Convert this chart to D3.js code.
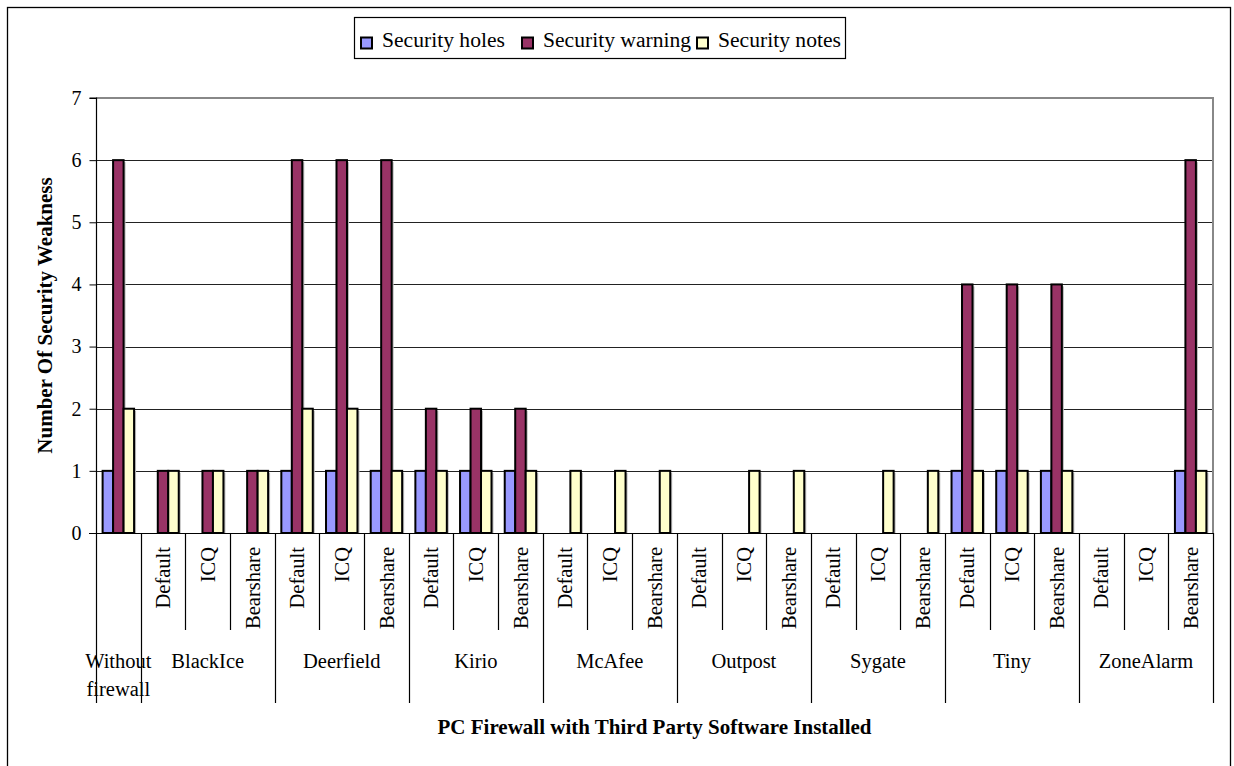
<!DOCTYPE html>
<html>
<head>
<meta charset="utf-8">
<script src="https://cdn.jsdelivr.net/npm/d3@7"></script>
<style>
  html, body { margin: 0; padding: 0; background: #fff; }
  svg { display: block; }
  text { font-family: "Liberation Serif", "Times New Roman", serif; fill: #000; }
</style>
</head>
<body>
<svg id="chart" width="1234" height="766"></svg>
<script>
// ---- data ----
const groups = ["Without firewall", "BlackIce", "Deerfield", "Kirio", "McAfee", "Outpost", "Sygate", "Tiny", "ZoneAlarm"];
const groupSizes = [1, 3, 3, 3, 3, 3, 3, 3, 3];
const subLabels = ["", "Default", "ICQ", "Bearshare", "Default", "ICQ", "Bearshare", "Default", "ICQ", "Bearshare",
  "Default", "ICQ", "Bearshare", "Default", "ICQ", "Bearshare", "Default", "ICQ", "Bearshare",
  "Default", "ICQ", "Bearshare", "Default", "ICQ", "Bearshare"];
const seriesNames = ["Security holes", "Security warning", "Security notes"];
const seriesColors = ["#9999FF", "#993366", "#FFFFCC"];
const holes   = [1, 0,0,0, 1,1,1, 1,1,1, 0,0,0, 0,0,0, 0,0,0, 1,1,1, 0,0,1];
const warning = [6, 1,1,1, 6,6,6, 2,2,2, 0,0,0, 0,0,0, 0,0,0, 4,4,4, 0,0,6];
const notes   = [2, 1,1,1, 2,2,1, 1,1,1, 1,1,1, 0,1,1, 0,1,1, 1,1,1, 0,0,1];
const yTicks = [0, 1, 2, 3, 4, 5, 6, 7];
const yTitle = "Number Of Security Weakness";
const xTitle = "PC Firewall with Third Party Software Installed";

const seriesValues = [holes, warning, notes];

// ---- layout ----
const svg = d3.select("#chart");
const plot = { left: 96, right: 1213, top: 98, bottom: 533 };

const idx = d3.range(subLabels.length);
const x0 = d3.scaleBand().domain(idx).range([plot.left, plot.right]).padding(0);
const bw = x0.bandwidth();
const gap = bw * 0.148;
const x1 = d3.scaleBand().domain(d3.range(seriesNames.length)).range([gap, bw - gap]).padding(0);
const y = d3.scaleLinear().domain([0, 7]).range([plot.bottom, plot.top]);

// outer frame
svg.append("rect").attr("x", 7.5).attr("y", 7.5).attr("width", 1223).attr("height", 780)
  .attr("fill", "none").attr("stroke", "#000").attr("stroke-width", 1.3);

// gridlines
svg.append("g").selectAll("line").data(yTicks.filter(t => t > 0 && t < 7)).join("line")
  .attr("x1", plot.left).attr("x2", plot.right)
  .attr("y1", d => Math.round(y(d)) + 0.5).attr("y2", d => Math.round(y(d)) + 0.5)
  .attr("stroke", "#222").attr("stroke-width", 1);

// plot border top/right (gray)
svg.append("path")
  .attr("d", `M${plot.left},${plot.top}H${plot.right}V${plot.bottom}`)
  .attr("fill", "none").attr("stroke", "#888").attr("stroke-width", 2);

// y axis
const yAxis = d3.axisLeft(y).tickValues(yTicks).tickSize(7).tickPadding(8).tickFormat(d3.format("d"));
const gy = svg.append("g").attr("transform", `translate(${plot.left + 0.5},0)`).call(yAxis);
gy.select(".domain").attr("stroke", "#000").attr("stroke-width", 1.2).attr("d", `M-7,${plot.top}H0V${plot.bottom}`);
gy.selectAll(".tick line").attr("stroke", "#000");
gy.selectAll(".tick text").style("font-size", "20px").style("font-family", "'Liberation Serif', serif").attr("fill", "#000");

// bar shadows
const barData = [];
seriesValues.forEach((vals, s) => vals.forEach((v, i) => { if (v > 0) barData.push({ s, i, v }); }));

svg.append("g").selectAll("rect").data(barData).join("rect")
  .attr("x", d => x0(d.i) + x1(d.s) + 2)
  .attr("y", d => y(d.v) + 2)
  .attr("width", x1.bandwidth())
  .attr("height", d => y(0) - y(d.v) - 2)
  .attr("fill", "#bbb");

// bars
svg.append("g").selectAll("rect").data(barData).join("rect")
  .attr("x", d => x0(d.i) + x1(d.s))
  .attr("y", d => y(d.v))
  .attr("width", x1.bandwidth())
  .attr("height", d => y(0) - y(d.v))
  .attr("fill", d => seriesColors[d.s])
  .attr("stroke", "#000").attr("stroke-width", 2);

// baseline
svg.append("line").attr("x1", plot.left - 7).attr("x2", plot.right)
  .attr("y1", plot.bottom + 0.5).attr("y2", plot.bottom + 0.5)
  .attr("stroke", "#000").attr("stroke-width", 1.2);

// category dividers
const groupStarts = [];
let acc = 0;
groupSizes.forEach(n => { groupStarts.push(acc); acc += n; });
const groupBoundaries = new Set(groupStarts.concat([acc]));
const divG = svg.append("g");
d3.range(subLabels.length + 1).forEach(k => {
  const xx = k < subLabels.length ? x0(k) : plot.right;
  const isGroup = groupBoundaries.has(k);
  divG.append("line")
    .attr("x1", Math.round(xx) + 0.5).attr("x2", Math.round(xx) + 0.5)
    .attr("y1", plot.bottom).attr("y2", isGroup ? 703 : 630)
    .attr("stroke", "#000").attr("stroke-width", 1.2);
});

// sub labels (rotated)
svg.append("g").selectAll("text").data(idx.filter(i => subLabels[i] !== "")).join("text")
  .attr("transform", i => `translate(${x0(i) + bw / 2},547) rotate(-90)`)
  .attr("text-anchor", "end")
  .attr("dy", "0.35em")
  .style("font-size", "20.5px")
  .text(i => subLabels[i]);

// group labels
const gl = svg.append("g");
groups.forEach((g, gi) => {
  const start = groupStarts[gi];
  const end = start + groupSizes[gi];
  const cx = (x0(start) + (end < subLabels.length ? x0(end) : plot.right)) / 2;
  const words = gi === 0 ? ["Without", "firewall"] : [g];
  const t = gl.append("text").attr("x", cx).attr("y", 668).attr("text-anchor", "middle").style("font-size", "20.5px");
  words.forEach((w, wi) => t.append("tspan").attr("x", cx).attr("y", 668 + wi * 28).text(w));
});

// axis titles
svg.append("text")
  .attr("transform", `translate(52,${(plot.top + plot.bottom) / 2}) rotate(-90)`)
  .attr("text-anchor", "middle")
  .style("font-size", "21px").style("font-weight", "bold")
  .text(yTitle);

svg.append("text")
  .attr("x", (plot.left + plot.right) / 2).attr("y", 734)
  .attr("text-anchor", "middle")
  .style("font-size", "21px").style("font-weight", "bold")
  .text(xTitle);

// legend
const leg = svg.append("g");
leg.append("rect").attr("x", 354.5).attr("y", 17.5).attr("width", 491).attr("height", 41)
  .attr("fill", "#fff").attr("stroke", "#000").attr("stroke-width", 1.2);
const legX = [361, 522, 697];
seriesNames.forEach((n, s) => {
  leg.append("rect").attr("x", legX[s]).attr("y", 37.5).attr("width", 11).attr("height", 11)
    .attr("fill", seriesColors[s]).attr("stroke", "#000").attr("stroke-width", 2);
  leg.append("text").attr("x", legX[s] + 21).attr("y", 47).style("font-size", "21.6px").text(n);
});
</script>
</body>
</html>
